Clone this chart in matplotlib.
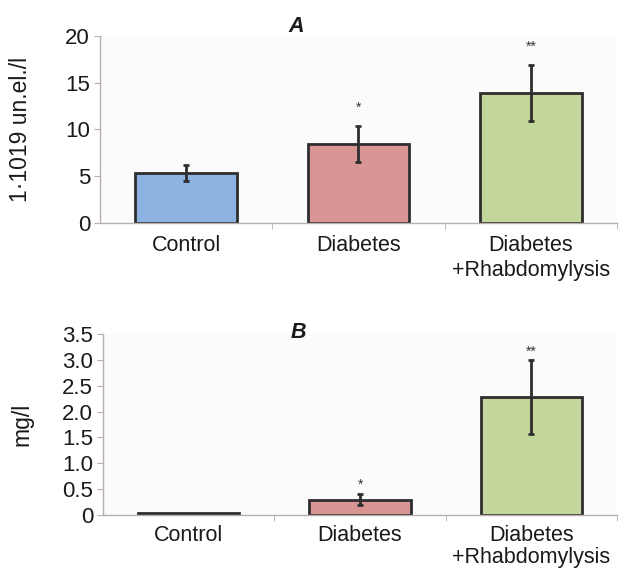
import matplotlib
matplotlib.use("Agg")
import matplotlib.pyplot as plt

categories = ["Control", "Diabetes", "Diabetes\n+Rhabdomylysis"]
a_values = [5.3, 8.45, 13.9]
a_errors = [0.85, 1.9, 3.0]
a_marks = ["", "*", "**"]
b_values = [0.04, 0.3, 2.28]
b_errors = [0.0, 0.11, 0.71]
b_marks = ["", "*", "**"]
a_ticks = [0, 5, 10, 15, 20]
a_ticklabels = ["0", "5", "10", "15", "20"]
b_ticks = [0, 0.5, 1.0, 1.5, 2.0, 2.5, 3.0, 3.5]
b_ticklabels = ["0", "0.5", "1.0", "1.5", "2.0", "2.5", "3.0", "3.5"]
colors = ["#8db3e2", "#d99594", "#c3d69b"]

plt.rcParams['font.family'] = ['Liberation Sans', 'DejaVu Sans']

fig = plt.figure(figsize=(6.24, 5.71), dpi=100)
axA = fig.add_axes([0.160, 0.610, 0.829, 0.327])
axB = fig.add_axes([0.165, 0.098, 0.824, 0.317])

spine_col = "#b8aeae"

def draw(ax, vals, errs, marks, ticks, ticklabels, ylim, ylabel, letter, letter_y, star_off, lsp, pad):
    x = list(range(len(vals)))
    ax.set_facecolor("#fbfbfb")
    ax.bar(x, vals, width=0.59, color=colors, edgecolor="#2e2e2e", linewidth=2, zorder=2)
    for xi, v, e, m in zip(x, vals, errs, marks):
        if e > 0:
            ax.errorbar(xi, v, yerr=e, fmt="none", ecolor="#2e2e2e", elinewidth=2,
                        capsize=2.5, capthick=2, zorder=3)
        if m:
            ax.text(xi, v + e + star_off, m, ha="center", va="bottom", fontsize=10,
                    color="#333333")
    ax.set_xlim(-0.5, 2.5)
    ax.set_ylim(*ylim)
    ax.set_yticks(ticks)
    ax.set_yticklabels(ticklabels, fontsize=16, color="#1a1a1a")
    ax.set_xticks([0.5, 1.5, 2.5], minor=True)
    ax.set_xticks(x)
    ax.set_xticklabels(categories, fontsize=15.5, color="#1a1a1a", linespacing=lsp)
    ax.tick_params(axis="x", which="major", length=0, pad=pad)
    ax.tick_params(axis="x", which="minor", length=4, color=spine_col, direction="out")
    ax.tick_params(axis="y", length=4, color=spine_col, pad=3)
    for s in ["top", "right"]:
        ax.spines[s].set_visible(False)
    for s in ["left", "bottom"]:
        ax.spines[s].set_color(spine_col)
        ax.spines[s].set_linewidth(1)
    ax.set_ylabel(ylabel, fontsize=16.5, color="#1a1a1a")
    ax.text(0.38, letter_y, letter, transform=ax.transAxes, fontsize=15.5, fontweight="bold",
            fontstyle="italic", ha="center", va="center", color="#1a1a1a")

draw(axA, a_values, a_errors, a_marks, a_ticks, a_ticklabels, (0, 20),
     "1·1019 un.el./l", "A", 1.05, 1.2, 1.25, 9)
axA.yaxis.set_label_coords(-0.132, 0.5)
draw(axB, b_values, b_errors, b_marks, b_ticks, b_ticklabels, (0, 3.5),
     "mg/l", "B", 1.01, 0.04, 1.1, 7)
axB.yaxis.set_label_coords(-0.136, 0.5)

fig.savefig("out.png", dpi=100, facecolor="white")
